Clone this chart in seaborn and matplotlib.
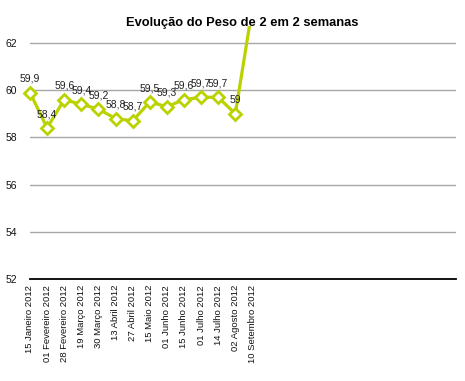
import matplotlib
matplotlib.use("Agg")
import matplotlib.pyplot as plt
import matplotlib.transforms as mtransforms
import seaborn as sns
import pandas as pd

datas = ["15 Janeiro 2012", "01 Fevereiro 2012", "28 Fevereiro 2012", "19 Março 2012",
         "30 Março 2012", "13 Abril 2012", "27 Abril 2012", "15 Maio 2012",
         "01 Junho 2012", "15 Junho 2012", "01 Julho 2012", "14 Julho 2012",
         "02 Agosto 2012", "10 Setembro 2012"]
peso = [59.9, 58.4, 59.6, 59.4, 59.2, 58.8, 58.7, 59.5, 59.3, 59.6, 59.7, 59.7, 59.0, 63.5]
yticks = [52, 54, 56, 58, 60, 62]
titulo = "Evolução do Peso de 2 em 2 semanas"

sns.set_style("white")
plt.rcParams['font.family'] = ['Liberation Sans', 'DejaVu Sans']

df = pd.DataFrame({"data": datas, "peso": peso})

fig = plt.figure(figsize=(4.65, 3.81), dpi=100)
ax = fig.add_axes([30/465, 1 - 279/381, (456-30)/465, (279-26)/381])

cor = "#bad200"
sns.lineplot(data=df, x="data", y="peso", sort=False, ax=ax, color=cor,
             linewidth=2.3, marker="D", markersize=6.3,
             markerfacecolor="white", markeredgecolor=cor, markeredgewidth=2.0,
             zorder=3)

# clip only at the top of the plot area, so the first marker stays whole
clipbox = mtransforms.TransformedBbox(
    mtransforms.Bbox([[0, 0], [1, 1 - 26/381]]), fig.transFigure)
for ln in ax.lines:
    ln.set_clip_path(None)
    ln.set_clip_box(clipbox)

ymax = 62.72
ax.set_ylim(52, ymax)
ax.set_xlim(0, 24.9)
ax.set_yticks(yticks)
ax.set_yticklabels([str(v) for v in yticks], fontsize=7.5, color="#111111")
ax.set_xticks(range(len(datas)))
ax.set_xticklabels(datas, rotation=90, fontsize=6.8, color="#111111", va="top", ha="center")
offset = mtransforms.ScaledTranslation(2/100, 0, fig.dpi_scale_trans)
for lbl in ax.get_xticklabels():
    lbl.set_transform(lbl.get_transform() + offset)
ax.tick_params(axis="y", length=0, pad=9.5)
ax.tick_params(axis="x", length=0, pad=4.3)
ax.set_xlabel("")
ax.set_ylabel("")

for v in yticks[1:]:
    ax.axhline(v, color="#a8a8a8", linewidth=1.0, zorder=1)
for s in ["top", "left", "right"]:
    ax.spines[s].set_visible(False)
ax.spines["bottom"].set_color("black")
ax.spines["bottom"].set_linewidth(1.3)

for i, v in enumerate(peso):
    if v <= ymax:
        txt = ("%g" % v).replace(".", ",")
        ax.annotate(txt, (i, v), xytext=(0, 10), textcoords="offset points",
                    ha="center", va="center", fontsize=7.5, color="#222222", zorder=4)

fig.text(242/465, 1 - 23/381, titulo, ha="center", va="center",
         fontsize=9.3, fontweight="bold", color="black")

fig.savefig("out.png", dpi=100, facecolor="white")
